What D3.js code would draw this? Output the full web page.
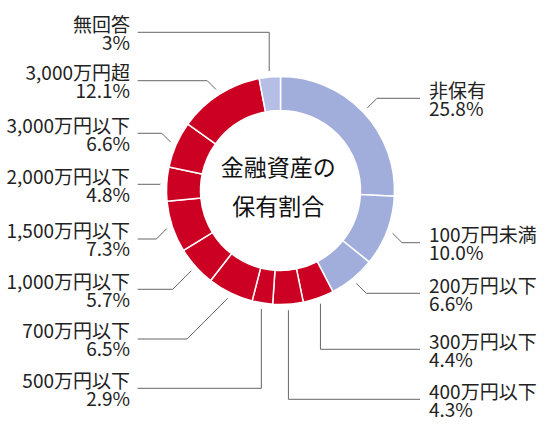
<!DOCTYPE html>
<html><head><meta charset="utf-8">
<script src="https://cdn.jsdelivr.net/npm/d3@7/dist/d3.min.js"></script>
<style>html,body{margin:0;padding:0;background:#fff;}svg{display:block;}</style>
</head><body>
<svg id="chart" width="547" height="437"></svg>
<script>
// ---- data ----
const categories = ["非保有","100万円未満","200万円以下","300万円以下","400万円以下","500万円以下","700万円以下","1,000万円以下","1,500万円以下","2,000万円以下","3,000万円以下","3,000万円超","無回答"];
const values = [25.8,10.0,6.6,4.4,4.3,2.9,6.5,5.7,7.3,4.8,6.6,12.1,3];
const valueLabels = ["25.8%","10.0%","6.6%","4.4%","4.3%","2.9%","6.5%","5.7%","7.3%","4.8%","6.6%","12.1%","3%"];
const groups = ["low","low","low","high","high","high","high","high","high","high","high","high","na"];
const centerTitle = ["金融資産の","保有割合"];

// ---- layout (not data) ----
const labelSide = ["R","R","R","R","R","L","L","L","L","L","L","L","L"];
const leaderType = ["diag","diag","diag","vert","vert","vert","diag","diag","diag","diag","diag","diag","vert"];
const labelLineY = [98.3,242.7,293.3,349.3,399.3,388.3,339,289.3,239,184.3,133.3,80.7,32.3];

const W = 547, H = 437, cx = 280.5, cy = 190.5;
const rInner = 80, rOuter = 114, rLead = 120;
const colorScale = d3.scaleOrdinal().domain(["low","high","na"]).range(["#a1aedb","#cb0022","#b5bee4"]);

const svg = d3.select("#chart");
const g = svg.append("g").attr("transform", `translate(${cx},${cy})`);

const pie = d3.pie().sort(null).value(d => d.v).startAngle(0).endAngle(2*Math.PI);
const rows = categories.map((c,i)=>({c, v:values[i], t:valueLabels[i], grp:groups[i], side:labelSide[i], type:leaderType[i], ly:labelLineY[i]}));
const arcs = pie(rows);
const arc = d3.arc().innerRadius(rInner).outerRadius(rOuter);

g.selectAll("path.slice").data(arcs).join("path")
  .attr("class","slice")
  .attr("d", arc)
  .attr("fill", d => colorScale(d.data.grp))
  .attr("stroke", "#fff")
  .attr("stroke-width", 1.5);

// leader lines
const leadX = {R: 420, L: 137.7};
const textX = {R: 429, L: 130};
const lines = svg.append("g").attr("fill","none").attr("stroke","#666").attr("stroke-width",1);
arcs.forEach(d => {
  const a = (d.startAngle + d.endAngle)/2;
  const x0 = cx + rLead*Math.sin(a), y0 = cy - rLead*Math.cos(a);
  const ly = d.data.ly;
  const sgn = d.data.side === "R" ? 1 : -1;
  let x1;
  if (d.data.type === "vert") x1 = x0;
  else x1 = x0 + sgn*Math.abs(ly - y0);
  const pts = [[x0,y0],[x1,ly],[leadX[d.data.side], ly]];
  lines.append("path").attr("d", d3.line()(pts));
});

// labels
const labels = svg.append("g")
  .attr("font-family","'Noto Sans CJK JP','Noto Sans',sans-serif")
  .attr("font-size",19).attr("fill","#222");
arcs.forEach(d => {
  const t = labels.append("text")
    .attr("x", textX[d.data.side])
    .attr("text-anchor", d.data.side === "R" ? "start" : "end");
  t.append("tspan").attr("x", textX[d.data.side]).attr("y", d.data.ly - 0.8).text(d.data.c);
  t.append("tspan").attr("x", textX[d.data.side]).attr("y", d.data.ly + 17.2).text(d.data.t);
});

// center title
const ct = svg.append("text")
  .attr("font-family","'Noto Sans CJK JP','Noto Sans',sans-serif")
  .attr("font-size",23).attr("fill","#111").attr("text-anchor","middle");
centerTitle.forEach((s,i) => {
  ct.append("tspan").attr("x", 278.3).attr("y", 176.3 + i*38.4).text(s);
});
</script>
</body></html>
